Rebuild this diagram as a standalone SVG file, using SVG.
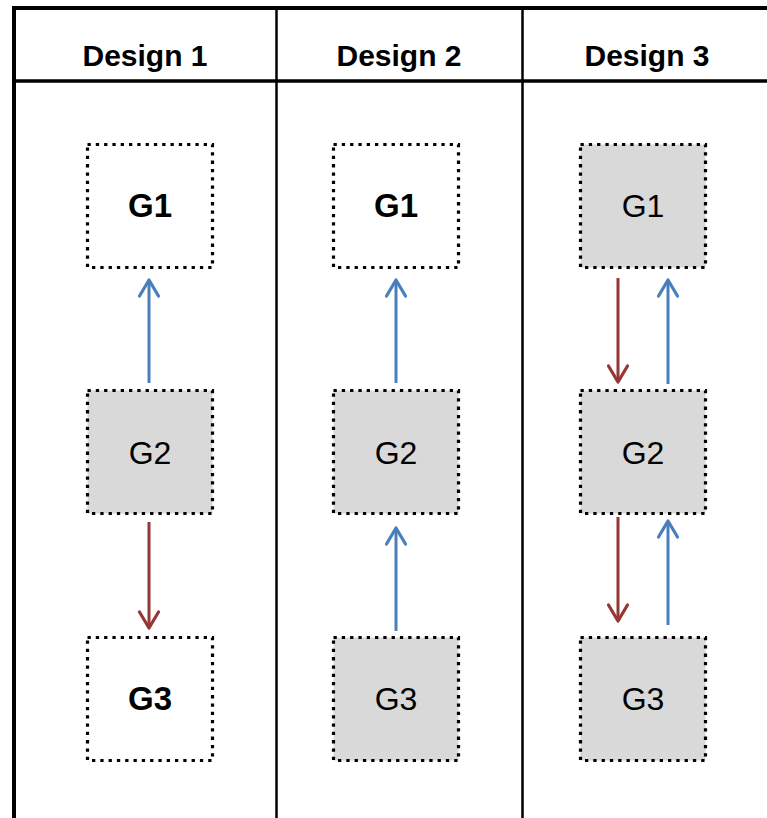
<svg xmlns="http://www.w3.org/2000/svg" width="767" height="818" viewBox="0 0 767 818">
<defs>
<style>
.frame{stroke:#000;fill:none}
.hdr{font-family:"Liberation Sans",Arial,sans-serif;font-weight:bold;font-size:30px;fill:#000;text-anchor:middle}
.box{stroke:#000;stroke-width:3.2;stroke-dasharray:3.3 5;}
.w{fill:#fff}
.g{fill:#d9d9d9}
.lb{font-family:"Liberation Sans",Arial,sans-serif;font-size:32px;fill:#000;text-anchor:middle}
.b{font-weight:bold;font-size:33px}
.blue{stroke:#4a7ebb;stroke-width:3;fill:none;marker-end:url(#ab)}
.red{stroke:#953735;stroke-width:3;fill:none;marker-end:url(#ar)}
</style>
<marker id="ab" markerUnits="userSpaceOnUse" markerWidth="30" markerHeight="30" viewBox="-20 -15 30 30" refX="0" refY="0" orient="auto" overflow="visible">
<path d="M-16,-9.5 L0,0 L-16,9.5" fill="none" stroke="#4a7ebb" stroke-width="3.2" stroke-linejoin="round" stroke-linecap="round"/>
</marker>
<marker id="ar" markerUnits="userSpaceOnUse" markerWidth="30" markerHeight="30" viewBox="-20 -15 30 30" refX="0" refY="0" orient="auto" overflow="visible">
<path d="M-16,-9.5 L0,0 L-16,9.5" fill="none" stroke="#953735" stroke-width="3.2" stroke-linejoin="round" stroke-linecap="round"/>
</marker>
</defs>
<rect width="767" height="818" fill="#fff"/>
<g id="table">
<line class="frame" x1="12" y1="8" x2="767" y2="8" stroke-width="4"/>
<line class="frame" x1="14" y1="6" x2="14" y2="818" stroke-width="4"/>
<line class="frame" x1="14" y1="81" x2="767" y2="81" stroke-width="3.5"/>
<line class="frame" x1="276.5" y1="8" x2="276.5" y2="818" stroke-width="2.5"/>
<line class="frame" x1="522.5" y1="8" x2="522.5" y2="818" stroke-width="2.5"/>
<text class="hdr" x="145" y="66">Design 1</text>
<text class="hdr" x="399" y="66">Design 2</text>
<text class="hdr" x="647" y="66">Design 3</text>
</g>
<g id="d1-g1"><rect class="box w" x="87.5" y="144.5" width="125" height="123"/><text class="lb b" x="150" y="217">G1</text></g>
<g id="d1-g2"><rect class="box g" x="87.5" y="390.5" width="125" height="123"/><text class="lb" x="150" y="464">G2</text></g>
<g id="d1-g3"><rect class="box w" x="87.5" y="637.5" width="125" height="123"/><text class="lb b" x="150" y="710">G3</text></g>
<g id="d2-g1"><rect class="box w" x="333.5" y="144.5" width="125" height="123"/><text class="lb b" x="396" y="217">G1</text></g>
<g id="d2-g2"><rect class="box g" x="333.5" y="390.5" width="125" height="123"/><text class="lb" x="396" y="464">G2</text></g>
<g id="d2-g3"><rect class="box g" x="333.5" y="637.5" width="125" height="123"/><text class="lb" x="396" y="710">G3</text></g>
<g id="d3-g1"><rect class="box g" x="580.5" y="144.5" width="125" height="123"/><text class="lb" x="643" y="217">G1</text></g>
<g id="d3-g2"><rect class="box g" x="580.5" y="390.5" width="125" height="123"/><text class="lb" x="643" y="464">G2</text></g>
<g id="d3-g3"><rect class="box g" x="580.5" y="637.5" width="125" height="123"/><text class="lb" x="643" y="710">G3</text></g>
<g id="connectors">
<line class="blue" x1="149" y1="383" x2="149" y2="280"/>
<line class="red" x1="149" y1="522" x2="149" y2="628"/>
<line class="blue" x1="396" y1="383" x2="396" y2="280"/>
<line class="blue" x1="396" y1="631" x2="396" y2="528"/>
<line class="red" x1="618" y1="278" x2="618" y2="382"/>
<line class="blue" x1="668" y1="384" x2="668" y2="280"/>
<line class="red" x1="618" y1="517" x2="618" y2="621"/>
<line class="blue" x1="668" y1="625" x2="668" y2="521"/>
</g>
</svg>
